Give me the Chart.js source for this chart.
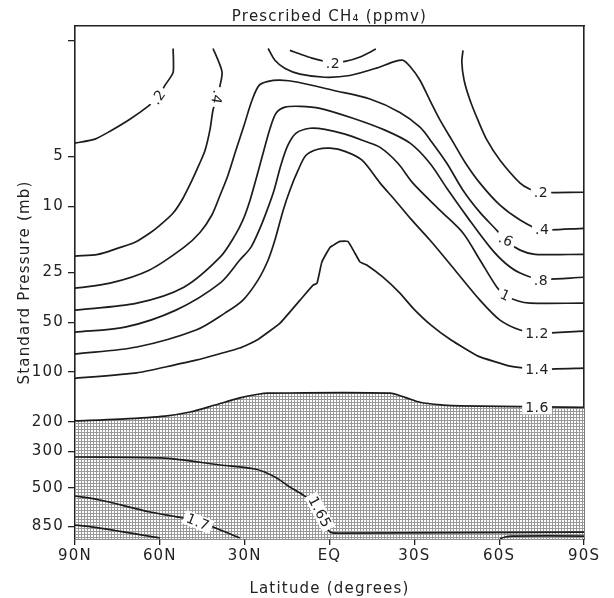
<!DOCTYPE html>
<html><head><meta charset="utf-8">
<script src="https://cdn.jsdelivr.net/npm/chart.js@4.4.1/dist/chart.umd.min.js"></script>
<style>html,body{margin:0;padding:0;background:#fff}canvas{display:block}</style>
</head><body>
<canvas id="c" width="614" height="598"></canvas>
<script>
// ---- Axis ticks ----
const latTicks = [90, 60, 30, 0, -30, -60, -90];
const latTickLabels = ['90N', '60N', '30N', 'EQ', '30S', '60S', '90S'];
const presTicks = [1, 5, 10, 25, 50, 100, 200, 300, 500, 850];
const presTickLabels = ['', '5', '10', '25', '50', '100', '200', '300', '500', '850'];

// ---- Contour lines: [latitude (deg, +N), pressure (mb)] ----
const c02N = [[55.3,1.12],[55.3,1.56],[58.2,1.87],[60.6,2.20],[64.2,2.50],[70.6,2.99],[77.6,3.53],[82.9,3.94],[90,4.17]];
const c04N = [[41.2,1.12],[39.4,1.32],[38.0,1.56],[38.7,1.87],[39.8,2.20],[41.2,2.64],[42.3,3.48],[44.0,4.60],[46.2,5.66],[48.6,6.97],[51.8,8.95],[55.3,11.0],[59.9,13.0],[63.5,14.5],[68.8,16.5],[74.8,17.9],[81.9,19.5],[90,20.0]];
const c02C = [[14.0,1.15],[10.4,1.21],[6.2,1.28],[1.6,1.34],[-1.2,1.36],[-5.5,1.34],[-10.8,1.26],[-16.4,1.13]];
const c04C = [[21.7,1.12],[19.3,1.32],[15.7,1.48],[10.4,1.60],[1.6,1.67],[-7.2,1.63],[-16.1,1.48],[-23.2,1.34],[-26.0,1.32],[-28.5,1.44],[-32.0,1.74],[-35.5,2.30],[-39.1,3.03],[-43.3,4.00],[-47.9,5.43],[-53.2,7.26],[-60.3,9.86],[-67.4,12.1],[-74.4,13.8],[-90,13.6]];
const c02S = [[-47.2,1.15],[-46.8,1.36],[-47.6,1.74],[-49.7,2.30],[-52.5,3.03],[-55.7,4.00],[-60.3,5.28],[-67.4,7.26],[-70.9,7.91],[-74.4,8.24],[-90,8.24]];
const c06 = [[90,31.2],[77.6,29.1],[63.8,24.3],[51.5,17.7],[45.8,14.4],[41.6,11.3],[38.7,8.59],[35.9,6.50],[33.1,4.60],[30.2,3.25],[27.4,2.30],[24.9,1.87],[21.7,1.77],[17.5,1.74],[11.1,1.79],[-1.2,2.00],[-14.3,2.26],[-24.9,2.72],[-32.0,3.34],[-36.2,4.11],[-41.5,5.51],[-47.2,8.01],[-53.2,10.9],[-59.2,14.0],[-62.1,16.0],[-67.4,18.4],[-72.7,19.5],[-90,19.5]];
const c08 = [[90,42.3],[68.1,38.4],[51.5,30.8],[38.7,20.3],[33.4,15.0],[30.6,12.1],[28.1,9.20],[25.6,6.50],[23.2,4.60],[21.0,3.39],[18.9,2.75],[15.7,2.53],[10.4,2.50],[3.4,2.57],[-8.3,2.95],[-19.6,3.48],[-28.5,4.17],[-35.5,5.51],[-41.5,7.80],[-49.0,11.8],[-56.8,17.7],[-62.1,22.0],[-67.4,25.3],[-74.4,27.5],[-90,26.8]];
const c10 = [[90,57.4],[72.3,53.6],[54.3,42.3],[38.7,29.1],[31.7,21.1],[27.8,17.7],[24.6,13.6],[22.1,10.6],[19.6,8.01],[17.2,5.66],[14.7,4.29],[11.8,3.63],[6.9,3.39],[1.6,3.44],[-5.5,3.68],[-12.5,4.06],[-17.9,4.42],[-24.2,5.51],[-29.5,7.26],[-39.1,10.6],[-47.2,14.5],[-53.2,21.1],[-59.2,30.8],[-62.1,34.4],[-66.7,37.3],[-70.9,38.4],[-90,38.4]];
const c12 = [[90,77.9],[68.1,70.6],[47.2,55.8],[37.0,44.1],[30.6,36.8],[25.3,27.9],[21.7,21.1],[19.3,16.0],[16.4,10.6],[14.0,8.01],[11.1,6.07],[8.3,4.93],[4.1,4.54],[-0.2,4.47],[-5.5,4.67],[-11.5,5.28],[-17.9,7.26],[-23.2,9.20],[-28.5,11.8],[-35.5,16.0],[-44.4,24.3],[-53.2,36.8],[-60.3,48.6],[-67.4,55.8],[-73.4,58.2],[-90,56.6]];
const c14 = [[90,109],[68.1,101],[47.2,84.7],[31.7,71.6],[25.6,64.1],[17.5,50.7],[10.4,36.8],[5.8,29.9],[4.4,29.1],[2.7,21.7],[-0.2,17.7],[-3.7,16.3],[-6.5,16.3],[-9.0,19.2],[-10.8,21.7],[-13.3,22.7],[-18.9,26.8],[-24.9,33.4],[-29.5,41.1],[-35.9,52.1],[-43.0,64.1],[-52.5,80.1],[-63.8,92.0],[-73.4,96.0],[-90,94.6]];
const c16 = [[90,197],[74.1,192],[58.2,184],[49.3,174],[40.5,158],[31.7,143],[25.3,136],[21.7,134],[-21.4,134],[-26.7,142],[-32.0,152],[-40.1,158],[-46.1,160],[-90,163]];
const c165 = [[90,325],[58.2,330],[38.7,363],[26.3,384],[19.3,429],[14.0,493],[8.3,567],[4.1,678],[1.6,813],[-0.2,921],[-3.7,934],[-90,921]];
const c17 = [[90,558],[81.2,590],[63.5,697],[51.8,758],[46.5,801],[41.2,859],[31.7,1000]];
const c175 = [[90,836],[81.2,871],[59.9,1000]];
const c18 = [[-60.3,1010],[-62.1,986],[-64.5,973],[-90,973]];

// ---- Contour labels: [text, latitude, pressure, rotation deg] ----
const contourLabels = [
  ['.2', 60.6, 2.20, -55],
  ['.4', 39.8, 2.20, 100],
  ['.2', -1.2, 1.38, 0],
  ['.2', -74.8, 8.24, 0],
  ['.4', -75.2, 13.8, 0],
  ['.6', -62.4, 16.0, 25],
  ['.8', -74.8, 27.9, 0],
  ['1', -62.1, 34.4, 25],
  ['1.2', -73.4, 58.2, 0],
  ['1.4', -73.4, 96.0, 0],
  ['1.6', -73.4, 163, 0],
  ['1.65', 3.4, 697, 62],
  ['1.7', 46.5, 801, 22]
];

const FONT = '"DejaVu Sans", sans-serif';
const INK = '#222';
const LINE = '#1c1c1c';

// stipple pattern for the region below the 1.6 contour
const pc = document.createElement('canvas');
pc.width = 3; pc.height = 3;
const pctx = pc.getContext('2d');
pctx.fillStyle = '#fff'; pctx.fillRect(0, 0, 3, 3);
pctx.fillStyle = '#999'; pctx.fillRect(0, 0, 3, 1); pctx.fillRect(0, 0, 1, 3);
const stipple = pctx.createPattern(pc, 'repeat');

function ds(arr, extra) {
  return Object.assign({
    data: arr.map(([la, p]) => ({x: la, y: p})),
    borderColor: LINE, borderWidth: 1.7, pointRadius: 0, tension: 0.3,
    fill: false, xAxisID: 'x', yAxisID: 'y', order: 0
  }, extra || {});
}

const datasets = [
  ds(c16, {fill: 'start', backgroundColor: stipple, order: 10}),
  ds(c02N, {tension: 0.2}), ds(c04N), ds(c02C), ds(c04C, {tension: 0.25}), ds(c02S),
  ds(c06), ds(c08), ds(c10), ds(c12), ds(c14, {tension: 0.12}),
  ds(c165), ds(c17), ds(c175), ds(c18, {tension: 0.2})
];

const spacing = {
  id: 'spacing',
  beforeUpdate(chart) { chart.ctx.letterSpacing = '1.2px'; },
  beforeDraw(chart) { chart.ctx.letterSpacing = '1.2px'; }
};

const labelPlugin = {
  id: 'contourLabels',
  afterDatasetsDraw(chart) {
    const {ctx, scales: {x, y}} = chart;
    ctx.save();
    ctx.letterSpacing = '0.5px';
    ctx.font = '14px ' + FONT;
    ctx.textAlign = 'center';
    ctx.textBaseline = 'middle';
    for (const [t, la, p, rot] of contourLabels) {
      const px = x.getPixelForValue(la), py = y.getPixelForValue(p);
      ctx.save();
      ctx.translate(px, py);
      ctx.rotate(rot * Math.PI / 180);
      const w = ctx.measureText(t).width;
      ctx.fillStyle = '#fff';
      ctx.fillRect(-w / 2 - 3, -7, w + 6, 14);
      ctx.fillStyle = INK;
      ctx.fillText(t, 0, 1);
      ctx.restore();
    }
    ctx.restore();
  }
};

const tickFont = {family: FONT, size: 15};
const borderOpt = {display: true, color: INK, width: 1.6};

new Chart(document.getElementById('c'), {
  type: 'line',
  data: {datasets},
  plugins: [spacing, labelPlugin],
  options: {
    responsive: false, animation: false, devicePixelRatio: 1,
    layout: {padding: 0},
    plugins: {legend: {display: false}, tooltip: {enabled: false}, title: {display: false}},
    scales: {
      x: {
        type: 'linear', position: 'bottom', min: -90, max: 90, reverse: true,
        afterBuildTicks: s => { s.ticks = latTicks.map(v => ({value: v})); },
        afterFit: s => { s.height = 59; },
        ticks: {autoSkip: false, maxRotation: 0, padding: 2, color: INK, font: tickFont,
          callback: v => { const i = latTicks.indexOf(v); return i >= 0 ? latTickLabels[i] : ''; }},
        grid: {display: true, drawOnChartArea: false, drawTicks: true, tickLength: 6, color: INK, lineWidth: 1.3},
        border: borderOpt,
        title: {display: true, text: 'Latitude (degrees)', color: INK, font: tickFont, padding: {top: 0, bottom: 0}}
      },
      x2: {
        type: 'linear', position: 'top', min: -90, max: 90, reverse: true,
        afterFit: s => { s.height = 26; },
        ticks: {display: false}, grid: {display: false}, border: borderOpt,
        title: {display: true, text: 'Prescribed CH\u2084 (ppmv)', color: INK, font: tickFont, padding: {top: 8, bottom: 0}}
      },
      y: {
        type: 'logarithmic', position: 'left', min: 0.82, max: 1014, reverse: true,
        afterBuildTicks: s => { s.ticks = presTicks.map(v => ({value: v})); },
        afterFit: s => { s.width = 75; },
        ticks: {autoSkip: false, padding: 4, color: INK, font: tickFont,
          callback: v => { const i = presTicks.indexOf(v); return i >= 0 ? presTickLabels[i] : ''; }},
        grid: {display: true, drawOnChartArea: false, drawTicks: true, tickLength: 7, color: INK, lineWidth: 1.3},
        border: borderOpt,
        title: {display: true, text: 'Standard Pressure (mb)', color: INK, font: tickFont, padding: {top: 16, bottom: 0}}
      },
      y2: {
        type: 'linear', position: 'right', min: 0, max: 1,
        afterFit: s => { s.width = 30; },
        ticks: {display: false}, grid: {display: false}, border: borderOpt
      }
    }
  }
});
</script>
</body></html>
